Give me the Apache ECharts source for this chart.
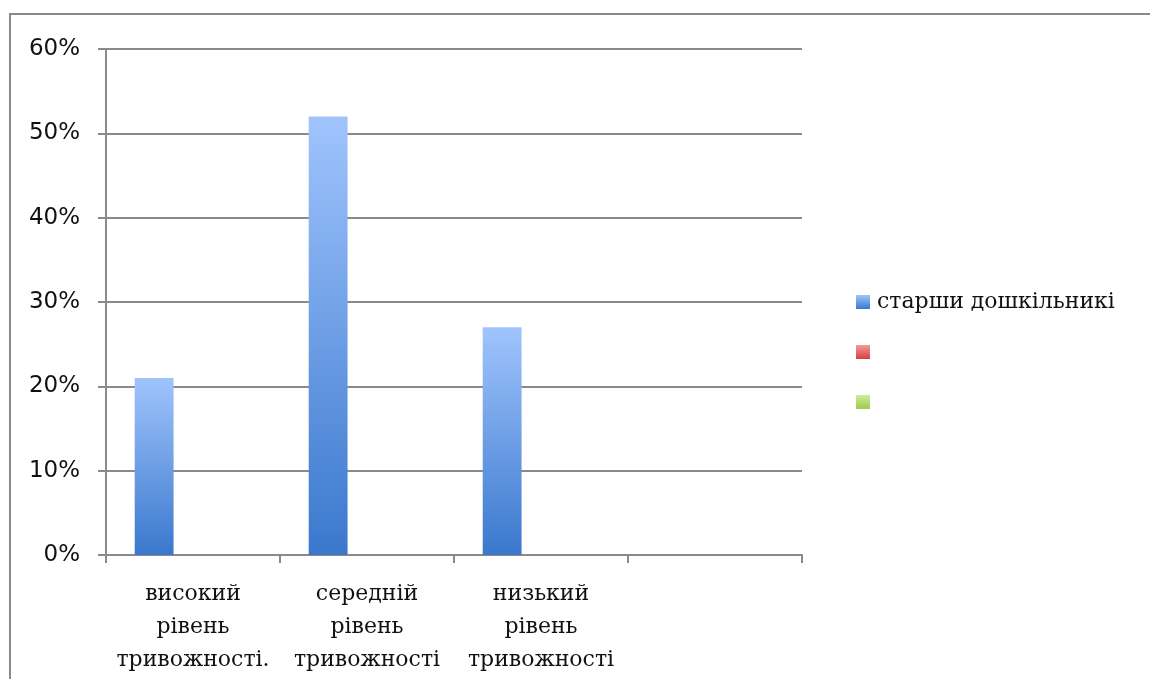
<!DOCTYPE html>
<html>
<head>
<meta charset="utf-8">
<script src="https://cdn.jsdelivr.net/npm/echarts@6/dist/echarts.min.js"></script>
<style>
  html, body { margin: 0; padding: 0; background: #fff; }
  #chart { width: 1150px; height: 679px; }
</style>
</head>
<body>
<div id="chart"></div>
<script>
// категорії та значення
const categories = ['високий\nрівень\nтривожності.', 'середній\nрівень\nтривожності', 'низький\nрівень\nтривожності', ''];
const seriesNames = ['старши дошкільникі', ' ', '  '];
const values1 = [0.21, 0.52, 0.27, null];
const values2 = [null, null, null, null];
const values3 = [null, null, null, null];

const chart = echarts.init(document.getElementById('chart'));

function grad(top, bottom) {
  return new echarts.graphic.LinearGradient(0, 0, 0, 1, [
    { offset: 0, color: top },
    { offset: 1, color: bottom }
  ]);
}

const axisGray = '#8a8a8a';

chart.setOption({
  animation: false,
  graphic: [
    {
      // рамка: лише ліва та верхня сторони видно
      type: 'polyline',
      shape: { points: [[10, 700], [10, 14], [1160, 14]] },
      style: { fill: 'none', stroke: axisGray, lineWidth: 2 },
      silent: true
    }
  ],
  grid: { left: 106, right: 348, top: 49, bottom: 124 },
  legend: {
    orient: 'vertical',
    left: 851,
    top: 286,
    icon: 'rect',
    itemWidth: 14,
    itemHeight: 14,
    itemGap: 28,
    data: seriesNames,
    textStyle: { fontFamily: 'DejaVu Serif', fontSize: 22, color: '#111', padding: [0, 0, 0, 2] }
  },
  xAxis: {
    type: 'category',
    data: categories,
    axisLine: { lineStyle: { color: axisGray, width: 2 } },
    axisTick: { show: true, interval: 0, length: 8, lineStyle: { color: axisGray, width: 2 } },
    axisLabel: {
      interval: 0,
      margin: 23,
      fontFamily: 'DejaVu Serif',
      fontSize: 22,
      lineHeight: 33,
      color: '#111'
    }
  },
  yAxis: {
    type: 'value',
    min: 0,
    max: 0.6,
    interval: 0.1,
    axisLine: { show: true, lineStyle: { color: axisGray, width: 2 } },
    axisTick: { show: true, length: 8, lineStyle: { color: axisGray, width: 2 } },
    splitLine: { lineStyle: { color: axisGray, width: 2 } },
    axisLabel: {
      margin: 26,
      fontFamily: 'DejaVu Sans',
      fontSize: 23,
      color: '#111',
      formatter: v => Math.round(v * 100) + '%'
    }
  },
  series: [
    {
      name: seriesNames[0],
      type: 'bar',
      data: values1,
      barGap: 0,
      barCategoryGap: '33%',
      itemStyle: { color: grad('#a0c4fd', '#3a78cd') }
    },
    {
      name: seriesNames[1],
      type: 'bar',
      data: values2,
      itemStyle: { color: grad('#f49a9a', '#d54040') }
    },
    {
      name: seriesNames[2],
      type: 'bar',
      data: values3,
      itemStyle: { color: grad('#d0eb98', '#9ccb4c') }
    }
  ]
});
</script>
</body>
</html>
